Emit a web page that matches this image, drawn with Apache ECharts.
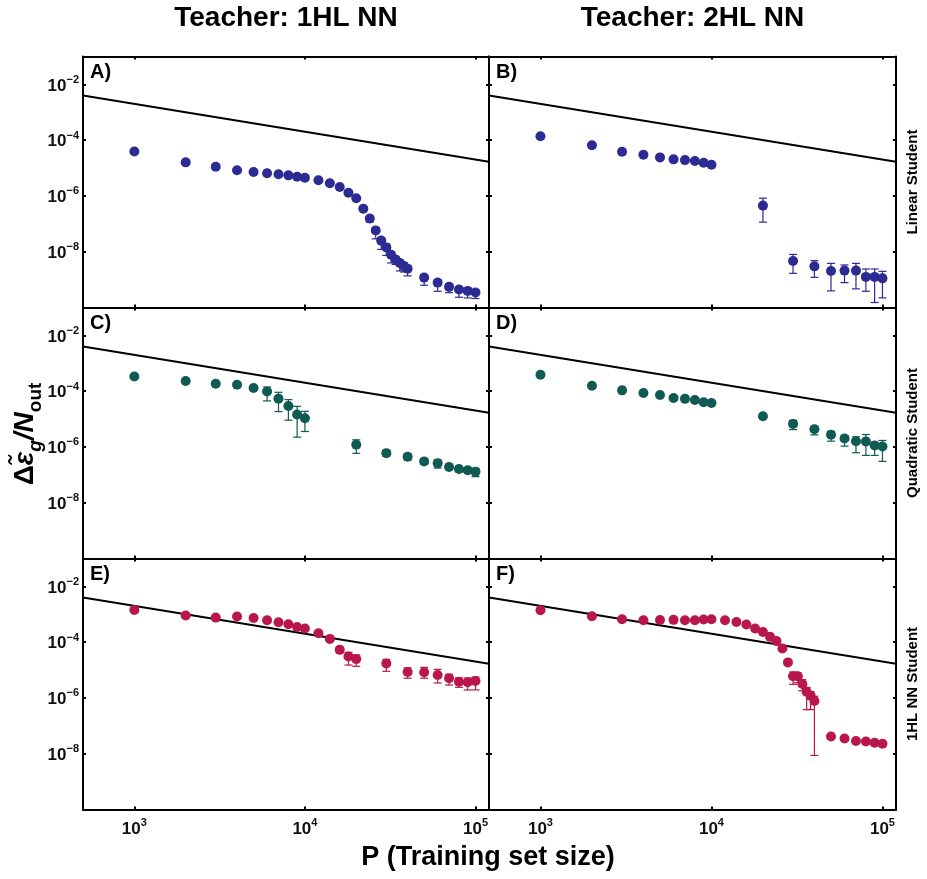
<!DOCTYPE html>
<html><head><meta charset="utf-8">
<script src="https://cdn.jsdelivr.net/npm/echarts@6/dist/echarts.min.js"></script>
<style>html,body{margin:0;padding:0;background:#fff}#c{width:927px;height:879px}</style>
</head><body><div id="c"></div>
<script>
// ---------------- data ----------------
const xFine = [1000,2000,3000,4000,5000,6000,7000,8000,9000,10000,12000,14000,16000,18000,20000,22000,24000,26000,28000,30000,32000,34000,36000,38000,40000,50000,60000,70000,80000,90000,100000];
const xCoarse = [1000,2000,3000,4000,5000,6000,7000,8000,9000,10000,20000,30000,40000,50000,60000,70000,80000,90000,100000];
const xMid = [1000,2000,3000,4000,5000,6000,7000,8000,9000,10000,12000,14000,16000,18000,20000,30000,40000,50000,60000,70000,80000,90000,100000];

const yA = [3.94e-5,1.60e-5,1.11e-5,8.3e-6,7.2e-6,6.5e-6,5.96e-6,5.48e-6,4.89e-6,4.5e-6,3.64e-6,2.84e-6,2.1e-6,1.31e-6,8.3e-7,3.5e-7,1.55e-7,5.8e-8,2.5e-8,1.43e-8,7.8e-9,5.3e-9,3.95e-9,3.1e-9,2.47e-9,1.18e-9,7.8e-10,5.5e-10,4.4e-10,3.94e-10,3.43e-10];
const errA = [[24000,1.15e-7,1.9e-7],[26000,2.9e-8,7.5e-8],[28000,1.21e-8,3.2e-8],[30000,7.4e-9,1.9e-8],[32000,3.95e-9,9.7e-9],[34000,3.5e-9,6.8e-9],[36000,2.05e-9,5.0e-9],[38000,1.88e-9,3.9e-9],[40000,1.36e-9,3.1e-9],[50000,6.3e-10,1.5e-9],[60000,3.8e-10,1.0e-9],[70000,3.4e-10,7.0e-10],[80000,2.33e-10,5.6e-10],[90000,2.2e-10,5.0e-10],[100000,2.1e-10,4.4e-10]];

const yB = [1.39e-4,6.6e-5,3.82e-5,2.98e-5,2.41e-5,2.05e-5,1.93e-5,1.78e-5,1.55e-5,1.31e-5,4.5e-7,4.66e-9,2.99e-9,2.05e-9,2.1e-9,2.1e-9,1.25e-9,1.25e-9,1.11e-9];
const errB = [[20000,1.15e-7,8.3e-7],[30000,1.68e-9,8.0e-9],[40000,1.21e-9,4.77e-9],[50000,3.94e-10,3.82e-9],[60000,7.8e-10,3.35e-9],[70000,4.66e-10,3.82e-9],[80000,3.82e-10,2.41e-9],[90000,1.51e-10,2.41e-9],[100000,2.22e-10,1.98e-9]];

const yC = [3.38e-4,2.31e-4,1.85e-4,1.71e-4,1.30e-4,9.8e-5,5.4e-5,2.96e-5,1.45e-5,1.07e-5,1.20e-6,6.0e-7,4.47e-7,3.03e-7,2.58e-7,1.90e-7,1.61e-7,1.45e-7,1.30e-7];
const errC = [[5000,1.1e-4,1.5e-4],[6000,4.47e-5,1.41e-4],[7000,1.85e-5,9.1e-5],[8000,9.1e-6,4.97e-5],[9000,2.24e-6,2.86e-5],[10000,3.58e-6,1.9e-5],[20000,5.9e-7,1.8e-6],[30000,4.7e-7,7.5e-7],[40000,3.38e-7,5.8e-7],[50000,2.4e-7,3.8e-7],[60000,1.75e-7,3.5e-7],[70000,1.55e-7,2.4e-7],[80000,1.3e-7,2.0e-7],[90000,1.2e-7,1.8e-7],[100000,8.6e-8,1.7e-7]];

const yD = [3.88e-4,1.57e-4,1.07e-4,8.6e-5,7.3e-5,5.7e-5,5.3e-5,4.85e-5,3.98e-5,3.79e-5,1.26e-5,6.7e-6,4.33e-6,2.73e-6,2.01e-6,1.61e-6,1.57e-6,1.13e-6,1.04e-6];
const errD = [[30000,4.2e-6,9.0e-6],[40000,2.7e-6,5.5e-6],[50000,1.61e-6,3.6e-6],[60000,1.07e-6,2.58e-6],[70000,6.2e-7,2.31e-6],[80000,4.97e-7,2.79e-6],[90000,4.97e-7,1.48e-6],[100000,3.03e-7,1.71e-6]];

const yE = [1.43e-3,9.0e-4,7.6e-4,8.3e-4,7.4e-4,6.1e-4,5.2e-4,4.4e-4,3.52e-4,3.08e-4,2.1e-4,1.31e-4,5.3e-5,3.08e-5,2.47e-5,1.73e-5,8.5e-6,8.3e-6,6.6e-6,5.06e-6,3.82e-6,3.64e-6,4.05e-6];
const errE = [[16000,4.2e-5,6.5e-5],[18000,1.51e-5,4.3e-5],[20000,1.36e-5,3.5e-5],[30000,9.0e-6,2.4e-5],[40000,5.1e-6,1.2e-5],[50000,5.1e-6,1.25e-5],[60000,3.44e-6,1.06e-5],[70000,2.91e-6,7.0e-6],[80000,2.41e-6,5.2e-6],[90000,1.93e-6,5.2e-6],[100000,1.94e-6,5.6e-6]];

const yF = [1.39e-3,8.5e-4,6.6e-4,6.1e-4,6.2e-4,6.3e-4,6.1e-4,6.1e-4,6.5e-4,6.6e-4,6.1e-4,5.3e-4,4.29e-4,3.08e-4,2.33e-4,1.55e-4,1.09e-4,5.95e-5,1.88e-5,5.96e-6,5.96e-6,3.16e-6,1.68e-6,1.21e-6,7.8e-7,4.15e-8,3.52e-8,2.84e-8,2.75e-8,2.47e-8,2.28e-8];
const errF = [[30000,3.08e-6,8.5e-6],[32000,3.5e-6,7.8e-6],[34000,1.8e-6,4.5e-6],[36000,3.8e-7,2.4e-6],[38000,3.82e-7,1.7e-6],[40000,8.7e-9,1.15e-6]];

// reference power-law line endpoints
const refP = [500, 120000];
const refY = [4.0e-3, 1.67e-5];

const panelLabels = ['A)','B)','C)','D)','E)','F)'];
const colTitles = ['Teacher: 1HL NN','Teacher: 2HL NN'];
const rowTitles = ['Linear Student','Quadratic Student','1HL NN Student'];
const xTitle = 'P (Training set size)';

// ---------------- build ----------------
const FONT = '"Liberation Sans", Arial, sans-serif';
const BLUE = '#2c2a93', TEAL = '#0f5a52', RED = '#b9164b';
const panels = [
  {x:xFine,  y:yA, err:errA, color:BLUE},
  {x:xCoarse,y:yB, err:errB, color:BLUE},
  {x:xCoarse,y:yC, err:errC, color:TEAL},
  {x:xCoarse,y:yD, err:errD, color:TEAL},
  {x:xMid,   y:yE, err:errE, color:RED},
  {x:xFine,  y:yF, err:errF, color:RED}
];
const cols = [{left:83,width:406},{left:489,width:407}];
const rowsTop = [56.5, 307.5, 558.5];
const H = 251;

const grids=[], xAxes=[], yAxes=[], series=[], graphics=[];
const axLine = {show:true, onZero:false, lineStyle:{color:'#000', width:2}};
const axTick = {show:true, inside:true, length:3, lineStyle:{color:'#000', width:2}};
const rich = {
  b:{fontSize:17, fontWeight:'bold', fontFamily:FONT, color:'#111', lineHeight:20, verticalAlign:'bottom'},
  s:{fontSize:11, fontWeight:'bold', fontFamily:FONT, color:'#111', lineHeight:12, verticalAlign:'top'}
};
function isPow(v){const l=Math.log10(v);return Math.abs(l-Math.round(l))<1e-6;}

panels.forEach((p,i)=>{
  const r=Math.floor(i/2), c=i%2;
  grids.push({left:cols[c].left, top:rowsTop[r], width:cols[c].width, height:H});
  const xBase = {type:'log', logBase:10, gridIndex:i, min:refP[0], max:refP[1],
    axisLine:axLine, axisTick:axTick, splitLine:{show:false}, minorTick:{show:false}};
  xAxes.push(Object.assign({}, xBase, {position:'bottom',
    axisLabel:{show:r===2, margin:8, rich:rich, formatter:v=>isPow(v)?'{b|10}{s|'+Math.round(Math.log10(v))+'}':''}}));
  xAxes.push(Object.assign({}, xBase, {position:'top', axisLabel:{show:false}}));
  const yBase = {type:'log', logBase:100, gridIndex:i, min:1e-10, max:1e-1,
    axisLine:axLine, axisTick:axTick, splitLine:{show:false}, minorTick:{show:false}};
  yAxes.push(Object.assign({}, yBase, {position:'left',
    axisLabel:{show:c===0, margin:4, rich:rich, showMaxLabel:false, showMinLabel:false, formatter:v=>{
      if(!isPow(v)) return ''; const e=Math.round(Math.log10(v));
      if(e<=-10||e>=-1) return '';
      return '{b|10}{s|\u2212'+(-e)+'}';}}}));
  yAxes.push(Object.assign({}, yBase, {position:'right', axisLabel:{show:false}}));

  const xi=2*i, yi=2*i;
  series.push({type:'line', xAxisIndex:xi, yAxisIndex:yi, data:refP.map((v,k)=>[v,refY[k]]),
    symbol:'none', lineStyle:{color:'#000', width:2}, silent:true, z:3, animation:false});
  series.push({type:'custom', xAxisIndex:xi, yAxisIndex:yi, data:p.err, encode:{x:0,y:[1,2]}, z:4, animation:false, silent:true,
    renderItem:(params,api)=>{
      const x=api.value(0), lo=api.value(1), hi=api.value(2);
      const a=api.coord([x,lo]), b=api.coord([x,hi]); const hw=4;
      const st={stroke:p.color, lineWidth:1.2, fill:null};
      return {type:'group', children:[
        {type:'line', shape:{x1:a[0],y1:a[1],x2:b[0],y2:b[1]}, style:st},
        {type:'line', shape:{x1:a[0]-hw,y1:a[1],x2:a[0]+hw,y2:a[1]}, style:st},
        {type:'line', shape:{x1:b[0]-hw,y1:b[1],x2:b[0]+hw,y2:b[1]}, style:st}]};
    }});
  series.push({type:'scatter', xAxisIndex:xi, yAxisIndex:yi, data:p.x.map((v,k)=>[v,p.y[k]]),
    symbol:'circle', symbolSize:10, itemStyle:{color:p.color, opacity:1}, z:5, animation:false, silent:true});

  graphics.push({type:'text', left:cols[c].left+7, top:rowsTop[r]+6,
    style:{text:panelLabels[i], font:'bold 20px '+FONT, fill:'#000'}});
});

colTitles.forEach((t,c)=>{
  graphics.push({type:'text', x:cols[c].left+cols[c].width/2, y:18,
    style:{text:t, font:'bold 28px '+FONT, fill:'#000', align:'center', verticalAlign:'middle'}});
});
rowTitles.forEach((t,r)=>{
  graphics.push({type:'text', x:913, y:rowsTop[r]+H/2, rotation:Math.PI/2,
    style:{text:t, font:'bold 15px '+FONT, fill:'#000', align:'center', verticalAlign:'middle'}});
});
graphics.push({type:'text', x:488, y:858,
  style:{text:xTitle, font:'bold 27px '+FONT, fill:'#000', align:'center', verticalAlign:'middle'}});
graphics.push({type:'text', x:24, y:434, rotation:Math.PI/2,
  style:{text:'{a|\u0394}{i|\u03b5\u0303}{si|g}{i|/N}{sb|out}', align:'center', verticalAlign:'middle',
    rich:{
      a:{font:'bold 28px '+FONT, fill:'#000', lineHeight:30, verticalAlign:'bottom'},
      i:{font:'italic bold 28px '+FONT, fill:'#000', lineHeight:30, verticalAlign:'bottom'},
      si:{font:'italic bold 19px '+FONT, fill:'#000', lineHeight:14, verticalAlign:'bottom', padding:[0,0,-6,0]},
      sb:{font:'bold 19px '+FONT, fill:'#000', lineHeight:14, verticalAlign:'bottom', padding:[0,0,-6,0]}
    }}});

const chart = echarts.init(document.getElementById('c'), null, {renderer:'canvas'});
chart.setOption({animation:false, backgroundColor:'#fff', grid:grids, xAxis:xAxes, yAxis:yAxes, series:series, graphic:graphics});
</script></body></html>
